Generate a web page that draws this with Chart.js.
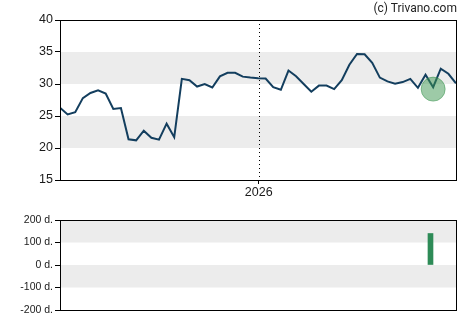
<!DOCTYPE html>
<html>
<head>
<meta charset="utf-8">
<script src="https://cdn.jsdelivr.net/npm/chart.js@4/dist/chart.umd.min.js"></script>
<style>
  html, body { margin: 0; padding: 0; background: #fff; }
  #wrap { position: relative; width: 470px; height: 325px; }
  #top { position: absolute; left: 0; top: 0; }
  #bot { position: absolute; left: 0; top: 200px; }
  #credit { position: absolute; right: 13px; top: 1px; font: 12px Roboto, "Liberation Sans", Arial, sans-serif; color: #222; }
</style>
</head>
<body>
<div id="wrap">
  <canvas id="top" width="470" height="200"></canvas>
  <canvas id="bot" width="470" height="125"></canvas>
  <div id="credit">(c) Trivano.com</div>
</div>
<script>
// ---- data ----
const priceValues = [
  26.3, 25.25, 25.6, 27.8, 28.6, 29.0, 28.5, 26.1, 26.25, 21.35,
  21.2, 22.7, 21.6, 21.3, 23.8, 21.7, 30.8, 30.6, 29.6, 30.0,
  29.45, 31.2, 31.75, 31.75, 31.15, 31.0, 30.9, 30.85, 29.5, 29.1,
  32.1, 31.2, 30.0, 28.8, 29.75, 29.75, 29.2, 30.6, 33.0, 34.7,
  34.65, 33.3, 31.0, 30.4, 30.05, 30.3, 30.8, 29.4, 31.45, 29.5,
  32.4, 31.6, 30.1
];
const yearLabel = '2026';
const yearMarkIndex = 26.1;
const markerIndex = 49;
const markerValue = 29.2;
const barIndex = 48.65;
const barValue = 140;
const priceTicks = [15, 20, 25, 30, 35, 40];
const dayTicks = [-200, -100, 0, 100, 200];
const priceBands = [[20, 25], [30, 35]];
const dayBands = [[100, 200], [-100, 0]];

const tickFont = { family: '"Liberation Sans", Arial, sans-serif', size: 12.5 };
const smallFont = { family: '"Liberation Sans", Arial, sans-serif', size: 10.5 };
const bandColor = '#ececec';

function bandsPlugin(bands, extra) {
  return {
    id: 'bands',
    beforeDatasetsDraw(chart) {
      const { ctx, chartArea: a, scales: { y } } = chart;
      ctx.save();
      ctx.fillStyle = bandColor;
      bands.forEach(([lo, hi]) => {
        const y1 = y.getPixelForValue(hi), y2 = y.getPixelForValue(lo);
        ctx.fillRect(a.left, y1, a.right - a.left, y2 - y1);
      });
      if (extra) extra(chart);
      ctx.restore();
    },
    afterDraw(chart) {
      const { ctx, chartArea: a } = chart;
      ctx.save();
      ctx.strokeStyle = '#000';
      ctx.lineWidth = 1;
      ctx.strokeRect(Math.round(a.left) + 0.5, Math.round(a.top) + 0.5,
        Math.round(a.right - a.left), Math.round(a.bottom - a.top));
      ctx.restore();
    }
  };
}

// ---- top chart ----
const linePoints = priceValues.map((v, i) => ({ x: i, y: v }));
new Chart(document.getElementById('top'), {
  data: {
    datasets: [
      {
        type: 'bubble',
        data: [{ x: markerIndex, y: markerValue, r: 12 }],
        backgroundColor: 'rgba(60,150,80,0.5)',
        borderColor: 'rgba(60,150,80,0.55)',
        borderWidth: 1,
        order: 0
      },
      {
        type: 'line',
        data: linePoints,
        borderColor: '#133e5e',
        borderWidth: 2,
        pointRadius: 0,
        tension: 0,
        fill: false,
        order: 1
      }
    ]
  },
  options: {
    animation: false,
    responsive: false,
    events: [],
    layout: { padding: { top: 20, right: 14, left: 0, bottom: 0 } },
    plugins: { legend: { display: false }, tooltip: { enabled: false } },
    scales: {
      x: {
        type: 'linear',
        min: 0,
        max: priceValues.length - 1,
        afterBuildTicks(s) { s.ticks = [{ value: yearMarkIndex }]; },
        afterFit(s) { s.height = 20; },
        ticks: { callback: () => yearLabel, color: '#1a1a1a', font: tickFont, padding: 1, maxRotation: 0 },
        grid: { drawOnChartArea: false, drawTicks: true, tickLength: 4, color: '#000' },
        border: { color: '#000' }
      },
      y: {
        min: 15,
        max: 40,
        afterBuildTicks(s) { s.ticks = priceTicks.map(v => ({ value: v })); },
        afterFit(s) { s.width = 60; },
        ticks: { color: '#1a1a1a', font: tickFont, padding: 2 },
        grid: { drawOnChartArea: false, drawTicks: true, tickLength: 5, color: '#000' },
        border: { color: '#000' }
      }
    }
  },
  plugins: [bandsPlugin(priceBands, (chart) => {
    const { ctx, chartArea: a, scales: { x } } = chart;
    const px = Math.round(x.getPixelForValue(yearMarkIndex)) + 0.5;
    ctx.strokeStyle = '#000';
    ctx.lineWidth = 1;
    ctx.setLineDash([1, 3]);
    ctx.beginPath();
    ctx.moveTo(px, a.top);
    ctx.lineTo(px, a.bottom);
    ctx.stroke();
    ctx.setLineDash([]);
  })]
});

// ---- bottom chart ----
new Chart(document.getElementById('bot'), {
  type: 'bar',
  data: {
    datasets: [{
      data: [{ x: barIndex, y: barValue }],
      backgroundColor: '#2e8b57',
      barThickness: 5
    }]
  },
  options: {
    animation: false,
    responsive: false,
    events: [],
    layout: { padding: { top: 20, right: 14, left: 0, bottom: 15 } },
    plugins: { legend: { display: false }, tooltip: { enabled: false } },
    scales: {
      x: {
        type: 'linear',
        offset: false,
        min: 0,
        max: priceValues.length - 1,
        display: false,
        grid: { offset: false }
      },
      y: {
        min: -200,
        max: 200,
        afterBuildTicks(s) { s.ticks = dayTicks.map(v => ({ value: v })); },
        afterFit(s) { s.width = 60; },
        ticks: { color: '#1a1a1a', font: smallFont, padding: 2, callback: v => v + ' d.' },
        grid: {
          drawOnChartArea: true, drawTicks: true, tickLength: 5,
          color: (c) => (c.tick && c.tick.value === 0) ? '#000' : 'rgba(0,0,0,0)',
          tickColor: '#000'
        },
        border: { color: '#000' }
      }
    }
  },
  plugins: [bandsPlugin(dayBands)]
});
</script>
</body>
</html>
